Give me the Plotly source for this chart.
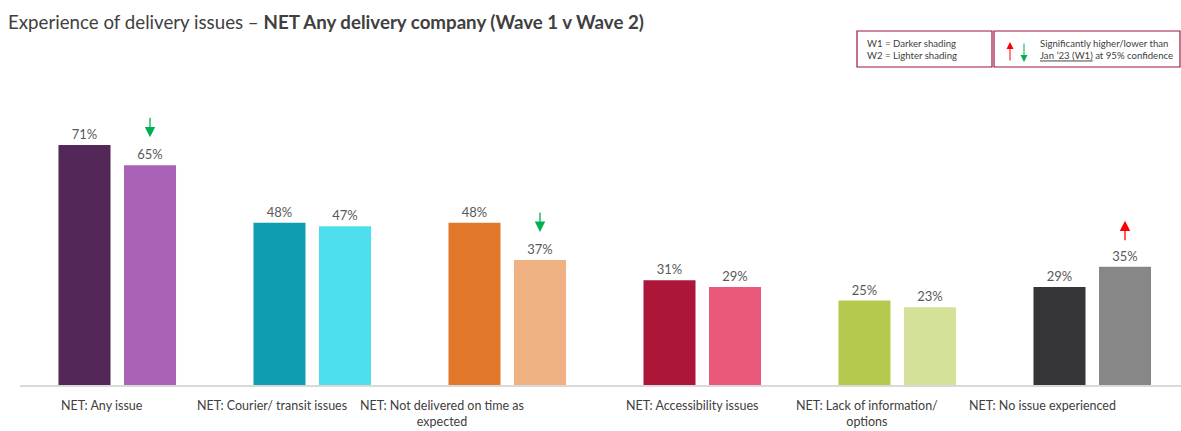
import plotly.graph_objects as go

categories = ["NET: Any issue", "NET: Courier/ transit issues",
              "NET: Not delivered on time as<br>expected", "NET: Accessibility issues",
              "NET: Lack of information/<br>options", "NET: No issue experienced"]
wave1 = [71, 48, 48, 31, 25, 29]
wave2 = [65, 47, 37, 29, 23, 35]
colors_w1 = ["#532757", "#0F9DB3", "#E2792A", "#AC1639", "#B5C94E", "#363638"]
colors_w2 = ["#A962B5", "#4EDFEF", "#EFB181", "#EA587A", "#D4E199", "#878788"]
# significance vs W1 for wave 2: -1 lower, +1 higher, 0 none
sig_w2 = [-1, 0, -1, 0, 0, 1]

W, H = 1181, 431
ML, MR, MT, MB = 20, 0, 80, 46
PW, PH = W - ML - MR, H - MT - MB
PX_PER_PCT = 3.38
CAT_PX = 195.0
BARGAP = 0.328
GROUPGAP = 0.206
FONT = "Lato"

def px_x(px):
    return (px - ML) / PW

def px_y(py):
    return (H - MB - py) / PH

x = list(range(len(categories)))

fig = go.Figure()
fig.add_trace(go.Bar(x=x, y=wave1, name="W1", marker=dict(color=colors_w1, line=dict(width=0)),
                     texttemplate="%{y}%", textposition="outside",
                     textfont=dict(family=FONT, size=13, color="#595959"), cliponaxis=False))
fig.add_trace(go.Bar(x=x, y=wave2, name="W2", marker=dict(color=colors_w2, line=dict(width=0)),
                     texttemplate="%{y}%", textposition="outside",
                     textfont=dict(family=FONT, size=13, color="#595959"), cliponaxis=False))

annotations = []
# category labels
label_shift = [-15, -40, -65, -10, -30, -50]
for i, c in enumerate(categories):
    annotations.append(dict(x=i, y=0, xref="x", yref="y", text=c, showarrow=False,
                            yanchor="top", xanchor="center", align="center",
                            xshift=label_shift[i], yshift=-11,
                            font=dict(family=FONT, size=12.5, color="#404040")))

# significance arrows above wave 2 bars
off = (1 - BARGAP) / 4  # offset of second bar from category center (in category units)
for i, s in enumerate(sig_w2):
    if s < 0:
        annotations.append(dict(x=i + off, y=wave2[i], xref="x", yref="y", text="",
                                showarrow=True, ax=0, ay=-21, yshift=28,
                                arrowhead=2, arrowsize=1.6, arrowwidth=1.3, arrowcolor="#00B050"))
    elif s > 0:
        annotations.append(dict(x=i + off, y=wave2[i], xref="x", yref="y", text="",
                                showarrow=True, ax=0, ay=21, yshift=46,
                                arrowhead=2, arrowsize=1.6, arrowwidth=1.3, arrowcolor="#FF0000"))

# legend boxes text
annotations.append(dict(x=px_x(865), y=px_y(49.5), xref="paper", yref="paper", showarrow=False,
                        xanchor="left", yanchor="middle", align="left",
                        text="W1 = Darker shading<br>W2 = Lighter shading",
                        font=dict(family=FONT, size=9.6, color="#404040")))
annotations.append(dict(x=px_x(1038), y=px_y(49.5), xref="paper", yref="paper", showarrow=False,
                        xanchor="left", yanchor="middle", align="left",
                        text="Significantly higher/lower than<br><u>Jan ’23 (W1)</u> at 95% confidence",
                        font=dict(family=FONT, size=9.6, color="#404040")))
annotations.append(dict(x=px_x(1010), y=px_y(42), xref="paper", yref="paper", text="",
                        showarrow=True, ax=0, ay=20, arrowhead=2, arrowsize=1.4, arrowwidth=1,
                        arrowcolor="#FF0000"))
annotations.append(dict(x=px_x(1024), y=px_y(62), xref="paper", yref="paper", text="",
                        showarrow=True, ax=0, ay=-20, arrowhead=2, arrowsize=1.4, arrowwidth=1,
                        arrowcolor="#00B050"))

shapes = [
    dict(type="rect", xref="paper", yref="paper", x0=px_x(857), x1=px_x(992),
         y0=px_y(67), y1=px_y(31), line=dict(color="#A0153E", width=1.2)),
    dict(type="rect", xref="paper", yref="paper", x0=px_x(994), x1=px_x(1180),
         y0=px_y(67), y1=px_y(31), line=dict(color="#A0153E", width=1.2)),
]

left = -(117.25 - ML) / CAT_PX
fig.update_layout(
    width=W, height=H,
    margin=dict(l=ML, r=MR, t=MT, b=MB, autoexpand=False),
    paper_bgcolor="white", plot_bgcolor="white",
    barmode="group", bargap=BARGAP, bargroupgap=GROUPGAP,
    showlegend=False,
    title=dict(text="Experience of delivery issues – <b>NET Any delivery company (Wave 1 v Wave 2)</b>",
               x=8 / W, xanchor="left", xref="container", y=1 - 22 / H, yanchor="middle",
               yref="container", font=dict(family=FONT, size=18.7, color="#404040")),
    xaxis=dict(range=[left, left + PW / CAT_PX], showticklabels=False, showgrid=False,
               zeroline=False, showline=True, linecolor="#D9D9D9", linewidth=2, ticks=""),
    yaxis=dict(range=[0, PH / PX_PER_PCT], visible=False, showgrid=False, zeroline=False),
    annotations=annotations, shapes=shapes,
)

fig.write_html("out.html")
